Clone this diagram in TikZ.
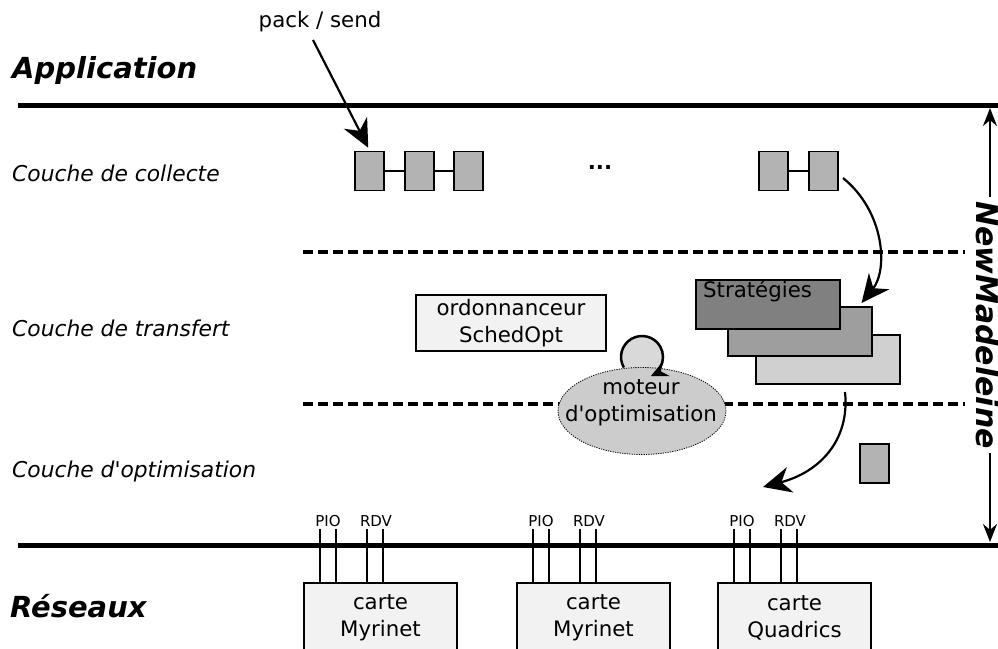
\documentclass[tikz,border=0pt]{standalone}
\usepackage{fontspec}
\setmainfont{DejaVu Sans}
\usetikzlibrary{arrows.meta,shapes.geometric,calc}
\definecolor{pktgray}{HTML}{B3B3B3}
\definecolor{cardgray}{HTML}{F2F2F2}
\definecolor{ellgray}{HTML}{CCCCCC}
\definecolor{circgray}{HTML}{D9D9D9}
\definecolor{stratA}{HTML}{808080}
\definecolor{stratB}{HTML}{9E9E9E}
\definecolor{stratC}{HTML}{D0D0D0}
\newcommand{\apos}{\textquotesingle}
\begin{document}
\begin{tikzpicture}[x=1pt,y=-1pt,
  every node/.style={font=\fontsize{21.3}{27}\selectfont},
  thickline/.style={line width=5pt},
  dashline/.style={line width=4pt,dash pattern=on 10pt off 5pt},
  pkt/.style={draw,line width=1.5pt,fill=pktgray,minimum width=29pt,minimum height=39pt,inner sep=0pt},
  card/.style={draw,line width=2pt,fill=cardgray,minimum width=153pt,minimum height=70pt,anchor=north west,align=center,inner sep=0pt},
  strat/.style={draw,line width=1.5pt,minimum width=144pt,minimum height=49pt,anchor=north west,inner sep=0pt},
  layer/.style={anchor=west,inner sep=0pt,font=\fontsize{21.8}{27}\selectfont\itshape},
  title/.style={anchor=west,inner sep=0pt,font=\fontsize{29}{34}\selectfont\bfseries\itshape},
  small/.style={font=\fontsize{15}{17}\selectfont,inner sep=0pt},
  pin/.style={line width=1.5pt},
  bigarrow/.style={line width=2.2pt,-{Stealth[length=28pt,width=26pt,inset=9pt]}},
]
\useasboundingbox (0,0) rectangle (998,648);
\clip (0,0) rectangle (998,648);

% titles and layer names
\node[title] (app) at (12,70) {Application};
\node[title] (res) at (10,606) {Réseaux};
\node[layer] (l1) at (12,173) {Couche de collecte};
\node[layer] (l2) at (12,328) {Couche de transfert};
\node[layer] (l3) at (12,471) {Couche d\apos optimisation};

% main lines
\coordinate (t0) at (18,105); \coordinate (t1) at (998,105);
\coordinate (b0) at (18,545); \coordinate (b1) at (998,545);
\draw[thickline] (t0) -- (t1);
\draw[thickline] (b0) -- (b1);
\coordinate (d0) at (303,252); \coordinate (d1) at (965,252);
\coordinate (e0) at (303,404); \coordinate (e1) at (965,404);
\draw[dashline] (d0) -- (d1);
\draw[dashline] (e0) -- (e1);

% NewMadeleine
\coordinate (n0) at (990,108); \coordinate (n1) at (990,542);
\draw[line width=2.2pt,{Stealth[length=18pt,width=14pt]}-{Stealth[length=18pt,width=14pt]}] (n0) -- (n1);
\node[fill=white,rotate=-90,font=\fontsize{30}{34}\selectfont\bfseries\itshape,inner sep=4pt] (nm) at (988,325) {NewMadeleine};

% collecte packets
\node[pkt] (p1) at (369.5,171) {};
\node[pkt] (p2) at (419.5,171) {};
\node[pkt] (p3) at (468.5,171) {};
\node[pkt] (p4) at (773.5,171) {};
\node[pkt] (p5) at (823.5,171) {};
\draw[line width=1.5pt] (p1) -- (p2) (p2) -- (p3) (p4) -- (p5);
\node (dots) at (600,167) {\textbf{...}};

% pack / send
\node (pack) at (320,22) {pack / send};
\coordinate (ps0) at (313,40);
\draw[bigarrow] (ps0) -- ($(p1.north west)+(14,-3)$);

% strategies
\node[strat,fill=stratC] (sC) at (755,334) {};
\node[strat,fill=stratB] (sB) at (727,306) {};
\node[strat,fill=stratA] (sA) at (695,279) {};
\node[anchor=north west,inner sep=0pt] (stxt) at (703,280) {Stratégies};

% curved arrow into strategies
\coordinate (c1s) at (843,178);
\draw[bigarrow] (c1s) .. controls (885,212) and (888,270) .. ($(sB.north east)+(-11,-3)$);

% ordonnanceur
\node[draw,line width=1.5pt,fill=cardgray,minimum width=190pt,minimum height=56pt,align=center,inner sep=0pt] (ord) at (511,323) {ordonnanceur\\SchedOpt};

% moteur d'optimisation
\node[circle,fill=circgray,minimum size=42pt,inner sep=0pt] (loop) at (642,357) {};
\node[ellipse,draw,line width=0.8pt,dash pattern=on 1.2pt off 1.2pt,fill=ellgray,minimum width=168pt,minimum height=87pt,inner sep=0pt] (mot) at (642,411) {};
\node[align=center,inner sep=0pt] (mottxt) at (641,403) {moteur\\d\apos optimisation};
\draw[line width=2.5pt,-{Stealth[length=17pt,width=16pt,inset=6pt]}] ($(loop.center)+(150:21)$) arc[start angle=150,end angle=425,radius=21];

% arrow down to optimisation layer
\coordinate (c2s) at (845,392);
\coordinate (c2e) at (763,487);
\draw[bigarrow] (c2s) .. controls (850,440) and (820,472) .. (c2e);

% small packet in optimisation layer
\node[pkt] (p6) at (874.5,463.5) {};

% cards
\node[card] (k1) at (303,582) {carte\\Myrinet};
\node[card] (k2) at (516,582) {carte\\Myrinet};
\node[card] (k3) at (717,582) {carte\\Quadrics};

\foreach \k in {k1,k2,k3}{
  \foreach \dx in {17,33,64,80}{
    \draw[pin] ($(\k.north west)+(\dx,0)$) -- ($(\k.north west)+(\dx,-53)$);
  }
  \node[small,anchor=south] at ($(\k.north west)+(25,-55)$) {PIO};
  \node[small,anchor=south] at ($(\k.north west)+(73,-55)$) {RDV};
}
\end{tikzpicture}
\end{document}
